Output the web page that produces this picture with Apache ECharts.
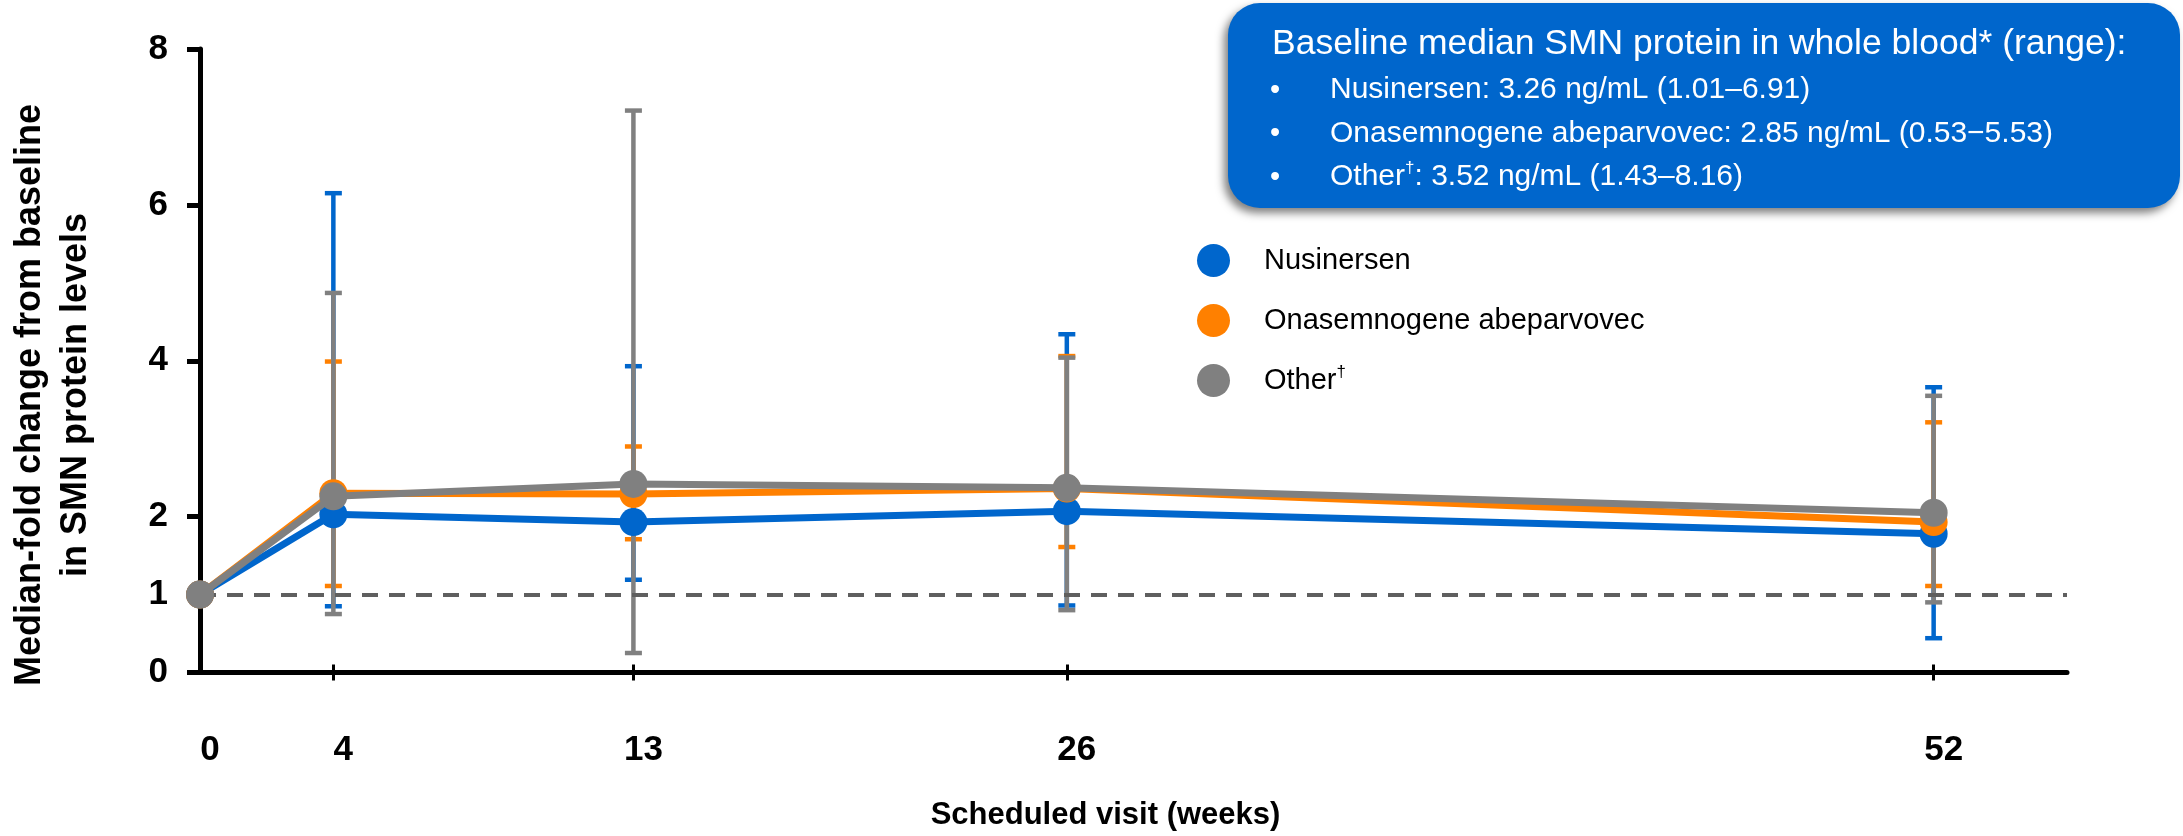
<!DOCTYPE html>
<html>
<head>
<meta charset="utf-8">
<script src="https://cdn.jsdelivr.net/npm/echarts@6.0.0/dist/echarts.min.js"></script>
<style>
  html, body { margin: 0; padding: 0; background: #fff; }
  #chart { width: 2183px; height: 836px; }
</style>
</head>
<body>
<div id="chart"></div>
<script>
// Scheduled visits (weeks)
const weeks = [0, 4, 13, 26, 52];
const yTicks = [0, 2, 4, 6, 8];
const yLabels = [0, 1, 2, 4, 6, 8];

// Median-fold change, with min / max range per visit
const nusinersen = [1, 2.03, 1.93, 2.07, 1.78];
const nusinersenLow = [null, 0.85, 1.19, 0.86, 0.44];
const nusinersenHigh = [null, 6.15, 3.93, 4.34, 3.66];

const onasemnogene = [1, 2.30, 2.29, 2.36, 1.93];
const onasemnogeneLow = [null, 1.11, 1.71, 1.61, 1.11];
const onasemnogeneHigh = [null, 3.99, 2.90, 4.06, 3.21];

const other = [1, 2.26, 2.42, 2.37, 2.05];
const otherLow = [null, 0.75, 0.25, 0.80, 0.90];
const otherHigh = [null, 4.87, 7.21, 4.04, 3.55];

const baselineLine = 1;

const names = ["Nusinersen", "Onasemnogene abeparvovec", "Other"];
const colors = ["#0066cc", "#ff8000", "#808080"];

const FONT = "Liberation Sans, Arial, sans-serif";

function points(values) {
  return weeks.map((w, i) => [w, values[i]]);
}

function ranges(low, high) {
  return weeks
    .map((w, i) => [w, low[i], high[i]])
    .filter((d) => d[1] != null);
}

// draws a whisker with caps from low to high
function errorBar(color) {
  return function (params, api) {
    const x = api.value(0);
    const top = api.coord([x, api.value(2)]);
    const bot = api.coord([x, api.value(1)]);
    const half = 8.5;
    const style = { stroke: color, lineWidth: 4.5 };
    return {
      type: "group",
      children: [
        { type: "line", shape: { x1: top[0], y1: top[1], x2: bot[0], y2: bot[1] }, style: style },
        { type: "line", shape: { x1: top[0] - half, y1: top[1], x2: top[0] + half, y2: top[1] }, style: style },
        { type: "line", shape: { x1: bot[0] - half, y1: bot[1], x2: bot[0] + half, y2: bot[1] }, style: style },
      ],
    };
  };
}

function lineSeries(name, values, color, z) {
  return {
    name: name,
    type: "line",
    data: points(values),
    z: z,
    clip: false,
    symbol: "circle",
    symbolSize: 28,
    showAllSymbol: true,
    itemStyle: { color: color },
    lineStyle: { color: color, width: 7 },
    emphasis: { disabled: true },
  };
}

function barSeries(low, high, color, z) {
  return {
    type: "custom",
    data: ranges(low, high),
    z: z,
    renderItem: errorBar(color),
    encode: { x: 0, y: [1, 2] },
    silent: true,
  };
}

const chart = echarts.init(document.getElementById("chart"));

const option = {
  animation: false,
  backgroundColor: "#fff",
  textStyle: { fontFamily: FONT },
  grid: [
    { left: 200, right: 116, top: 49, bottom: 163.5 },
    { left: 200, right: 116, top: 49, bottom: 163.5 },
  ],
  legend: {
    orient: "vertical",
    left: 1192,
    top: 239,
    icon: "circle",
    itemWidth: 33,
    itemHeight: 33,
    itemGap: 27,
    data: names,
    selectedMode: false,
    formatter: (name) => (name === "Other" ? "Other{sup|†}" : name),
    textStyle: {
      fontSize: 29,
      color: "#000",
      lineHeight: 33,
      padding: [0, 0, 0, 29],
      rich: { sup: { fontSize: 17, verticalAlign: "top", lineHeight: 33 } },
    },
  },
  xAxis: [
    {
      type: "value",
      min: 0,
      max: 56,
      gridIndex: 0,
      axisLine: { lineStyle: { color: "#000", width: 5 } },
      axisTick: { show: true, customValues: [4, 13, 26, 52], length: 8, lineStyle: { color: "#000", width: 3 } },
      axisLabel: {
        customValues: weeks,
        fontSize: 35,
        fontWeight: "bold",
        color: "#000",
        margin: 60,
        padding: [0, 0, 0, 20],
      },
      splitLine: { show: false },
      name: "Scheduled visit (weeks)",
      nameLocation: "middle",
      nameGap: 127,
      nameTextStyle: { fontSize: 31, fontWeight: "bold", color: "#000", padding: [0, 56, 0, 0] },
    },
    {
      type: "value",
      min: 0,
      max: 56,
      gridIndex: 1,
      axisLine: { show: false },
      axisTick: { show: true, inside: true, customValues: [4, 13, 26, 52], length: 8, lineStyle: { color: "#000", width: 3 } },
      axisLabel: { show: false },
      splitLine: { show: false },
    },
  ],
  yAxis: [
    {
      type: "value",
      min: 0,
      max: 8,
      interval: 2,
      gridIndex: 0,
      axisLine: { show: true, lineStyle: { color: "#000", width: 5 } },
      axisTick: { show: true, customValues: yTicks, length: 13, lineStyle: { color: "#000", width: 5 } },
      axisLabel: {
        customValues: yLabels,
        fontSize: 35,
        fontWeight: "bold",
        color: "#000",
        margin: 32,
      },
      splitLine: { show: false },
    },
    {
      type: "value",
      min: 0,
      max: 8,
      gridIndex: 1,
      show: false,
    },
  ],
  graphic: [
    {
      type: "rect",
      shape: { x: 1228, y: 3, width: 952, height: 205, r: 32 },
      style: {
        fill: "#0066cc",
        shadowColor: "rgba(0,0,0,0.5)",
        shadowBlur: 8,
        shadowOffsetX: -4,
        shadowOffsetY: 5,
      },
      z: 10,
    },
    {
      type: "text",
      x: 1272,
      y: 44,
      z: 11,
      style: {
        text: "Baseline median SMN protein in whole blood* (range):",
        fill: "#fff",
        font: "35.5px " + FONT,
        verticalAlign: "middle",
        textVerticalAlign: "middle",
      },
    },
    {
      type: "text",
      x: 1270,
      y: 90,
      z: 11,
      style: { text: "•\n•\n•", fill: "#fff", font: "29px " + FONT, lineHeight: 43.5, verticalAlign: "top", textVerticalAlign: "top", y: -21 },
    },
    {
      type: "text",
      x: 1330,
      y: 90,
      z: 11,
      style: {
        text: "Nusinersen: 3.26 ng/mL (1.01–6.91)",
        fill: "#fff",
        font: "30px " + FONT,
        verticalAlign: "middle",
        textVerticalAlign: "middle",
      },
    },
    {
      type: "text",
      x: 1330,
      y: 134,
      z: 11,
      style: {
        text: "Onasemnogene abeparvovec: 2.85 ng/mL (0.53−5.53)",
        fill: "#fff",
        font: "30px " + FONT,
        verticalAlign: "middle",
        textVerticalAlign: "middle",
      },
    },
    {
      type: "text",
      x: 1330,
      y: 177,
      z: 11,
      style: {
        text: "Other{sup|†}: 3.52 ng/mL (1.43–8.16)",
        fill: "#fff",
        fontSize: 30,
        fontFamily: FONT,
        lineHeight: 34,
        verticalAlign: "middle",
        textVerticalAlign: "middle",
        rich: { sup: { fontSize: 17, fill: "#fff", verticalAlign: "top", lineHeight: 34 } },
      },
    },
    {
      type: "text",
      x: 53,
      y: 395,
      rotation: Math.PI / 2,
      style: {
        text: "Median-fold change from baseline\nin SMN protein levels",
        fill: "#000",
        font: "bold 36px " + FONT,
        lineHeight: 46,
        align: "center",
        textAlign: "center",
        verticalAlign: "middle",
        textVerticalAlign: "middle",
      },
    },
  ],
  series: [
    Object.assign(barSeries(nusinersenLow, nusinersenHigh, colors[0], 2), {
      markLine: {
        silent: true,
        symbol: "none",
        label: { show: false },
        lineStyle: { color: "#5f5f5f", width: 4, type: [16, 11] },
        data: [{ yAxis: baselineLine }],
      },
    }),
    barSeries(onasemnogeneLow, onasemnogeneHigh, colors[1], 2),
    barSeries(otherLow, otherHigh, colors[2], 2),
    lineSeries(names[0], nusinersen, colors[0], 3),
    lineSeries(names[1], onasemnogene, colors[1], 4),
    lineSeries(names[2], other, colors[2], 5),
  ],
};

chart.setOption(option);
</script>
</body>
</html>
